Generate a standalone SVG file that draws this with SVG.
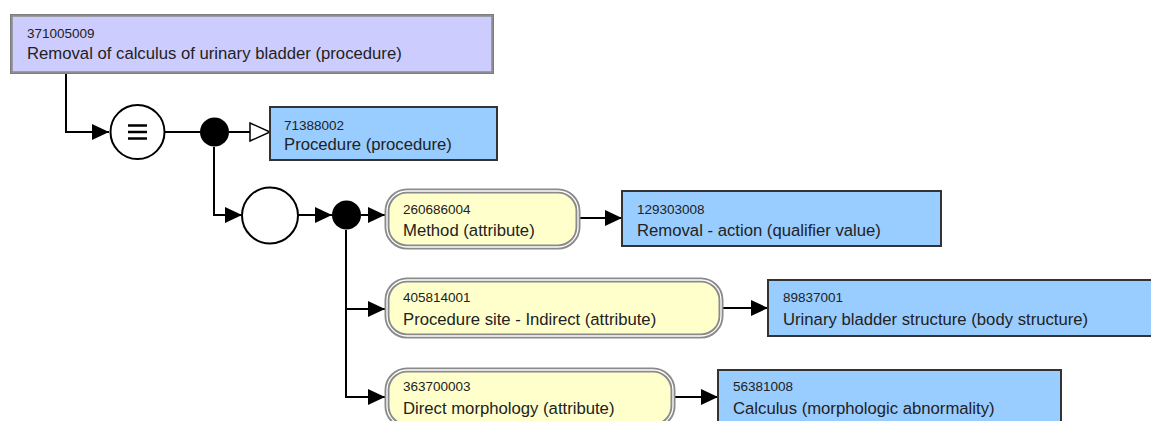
<svg xmlns="http://www.w3.org/2000/svg" width="1151" height="421" viewBox="0 0 1151 421">
<defs>
<marker id="arr" markerUnits="userSpaceOnUse" markerWidth="18" markerHeight="18" refX="17" refY="8" orient="auto"><path d="M0,0 L17,8 L0,16 z" fill="#000"/></marker>
<marker id="open" markerUnits="userSpaceOnUse" markerWidth="24" markerHeight="22" refX="21" refY="10" orient="auto"><path d="M1,1 L21,10 L1,19 z" fill="#fff" stroke="#000" stroke-width="1.5"/></marker>
<style>
.id{font-family:"Liberation Sans",Arial,sans-serif;font-size:13.5px;fill:#222}
.lb{font-family:"Liberation Sans",Arial,sans-serif;font-size:16.7px;fill:#222}
.blue{fill:#99ccff;stroke:#333;stroke-width:2}
.yo{fill:#ffffcc;stroke:#8a8a8a;stroke-width:5}
.yi{fill:none;stroke:#fff;stroke-width:1.3}
.c{fill:none;stroke:#000;stroke-width:2}
</style>
</defs>
<g id="connectors" class="c">
<path d="M66,74 V132 H109" marker-end="url(#arr)"/>
<path d="M165,132 H200"/>
<path d="M229,132 H270" marker-end="url(#open)"/>
<path d="M214,147 V215 H242" marker-end="url(#arr)"/>
<path d="M298,215 H332" marker-end="url(#arr)"/>
<path d="M361,215 H385" marker-end="url(#arr)"/>
<path d="M346,230 V397 H385" marker-end="url(#arr)"/>
<path d="M346,309 H385" marker-end="url(#arr)"/>
<path d="M580,218 H622" marker-end="url(#arr)"/>
<path d="M723,308 H768" marker-end="url(#arr)"/>
<path d="M675,397 H718" marker-end="url(#arr)"/>
</g>
<g id="n371005009">
<rect x="10.5" y="14.5" width="483" height="59" fill="#ccccff" stroke="#555" stroke-width="1"/>
<rect x="11.5" y="15.5" width="481" height="57" fill="none" stroke="#8c8c8c" stroke-width="2.5"/>
<text class="id" x="27" y="38">371005009</text>
<text class="lb" x="27" y="59">Removal of calculus of urinary bladder (procedure)</text>
</g>
<g id="equiv">
<circle cx="137.5" cy="132" r="27" fill="#fff" stroke="#000" stroke-width="2"/>
<path d="M128,125.5 H147 M128,132 H147 M128,138.5 H147" stroke="#000" stroke-width="2.5"/>
</g>
<g id="dot1"><circle cx="214.5" cy="132" r="14.5" fill="#000"/></g>
<g id="n71388002">
<rect class="blue" x="270" y="107" width="227" height="53"/>
<text class="id" x="284" y="130">71388002</text>
<text class="lb" x="284" y="150">Procedure (procedure)</text>
</g>
<g id="conj"><circle cx="270" cy="215.5" r="28" fill="#fff" stroke="#000" stroke-width="2"/></g>
<g id="dot2"><circle cx="346.5" cy="215" r="14.5" fill="#000"/></g>
<g id="n260686004">
<rect class="yo" x="387" y="191" width="191" height="56" rx="20"/>
<rect class="yi" x="387" y="191" width="191" height="56" rx="20"/>
<text class="id" x="403" y="214">260686004</text>
<text class="lb" x="403" y="236">Method (attribute)</text>
</g>
<g id="n129303008">
<rect class="blue" x="622" y="191" width="319" height="55"/>
<text class="id" x="637" y="214">129303008</text>
<text class="lb" x="637" y="236">Removal - action (qualifier value)</text>
</g>
<g id="n405814001">
<rect class="yo" x="387" y="280" width="334" height="56" rx="20"/>
<rect class="yi" x="387" y="280" width="334" height="56" rx="20"/>
<text class="id" x="403" y="302">405814001</text>
<text class="lb" x="403" y="325">Procedure site - Indirect (attribute)</text>
</g>
<g id="n89837001">
<rect class="blue" x="768" y="280" width="390" height="56"/>
<text class="id" x="783" y="302">89837001</text>
<text class="lb" x="783" y="325">Urinary bladder structure (body structure)</text>
</g>
<g id="n363700003">
<rect class="yo" x="387" y="370" width="286" height="56" rx="20"/>
<rect class="yi" x="387" y="370" width="286" height="56" rx="20"/>
<text class="id" x="403" y="391">363700003</text>
<text class="lb" x="403" y="414">Direct morphology (attribute)</text>
</g>
<g id="n56381008">
<rect class="blue" x="718" y="370" width="343" height="56"/>
<text class="id" x="733" y="391">56381008</text>
<text class="lb" x="733" y="414">Calculus (morphologic abnormality)</text>
</g>
</svg>
